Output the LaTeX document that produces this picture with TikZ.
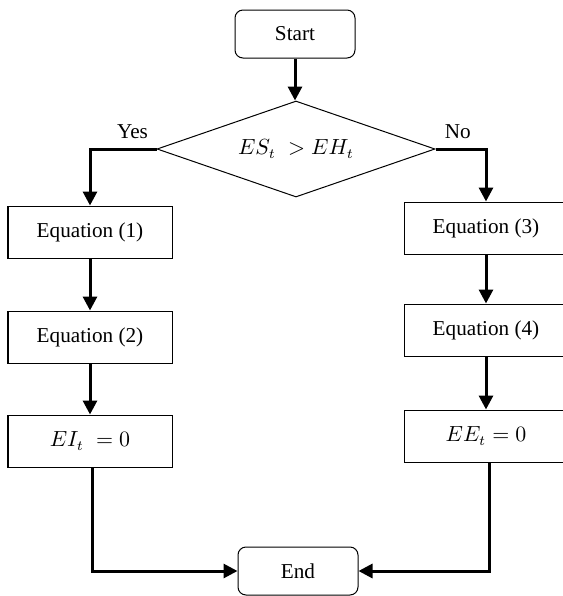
\documentclass[tikz,border=0pt]{standalone}
\usepackage{fontspec}
\setmainfont{Liberation Serif}
\usetikzlibrary{shapes.geometric,arrows.meta}

\tikzset{
    term/.style={draw, rounded corners=4pt, line width=0.5pt, minimum width=60pt, minimum height=24pt, font=\fontsize{10.6}{12}\selectfont},
    eqbox/.style={draw, line width=0.5pt, minimum width=82pt, minimum height=26pt, font=\fontsize{10.6}{12}\selectfont},
    test/.style={draw, diamond, aspect=2.9, line width=0.5pt, minimum width=139pt, minimum height=48pt, inner sep=0pt, font=\fontsize{10.6}{12}\selectfont},
    flow/.style={line width=1.5pt, -{Triangle[length=7pt,width=7pt]}},
    answer/.style={above, yshift=1pt, font=\fontsize{10.6}{12}\selectfont}
}

\begin{document}
\begin{tikzpicture}[x=0.5pt, y=-0.5pt]

                    \useasboundingbox (0,0) rectangle (563,596);

                    \node[term] (start) at (295,34) {Start};
                    \node[test] (cmp) at (296,149) {$ES_t\;>EH_t$};

                    \node[eqbox] (eq1) at (90,232) {Equation (1)};
                    \node[eqbox] (eq2) at (90,337) {Equation (2)};
                    \node[eqbox] (ei) at (90,441) {$EI_t\;=0$};

                    \node[eqbox] (eq3) at (486,228) {Equation (3)};
                    \node[eqbox] (eq4) at (486,330) {Equation (4)};
                    \node[eqbox] (ee) at (486,436) {$EE_t=0$};

                    \node[term] (end) at (298,571) {End};

                    \draw[flow] (start) -- (start |- cmp.north);
                    \draw[flow] (cmp.west) -| node[pos=0.18, answer] {Yes} (eq1);
                    \draw[flow] (cmp.east) -| node[pos=0.22, answer] {No} (eq3);
                    \draw[flow] (eq1) -- (eq2);
                    \draw[flow] (eq2) -- (ei);
                    \draw[flow] (eq3) -- (eq4);
                    \draw[flow] (eq4) -- (ee);
                    \draw[flow] ([xshift=1pt]ei.south) |- (end.west);
                    \draw[flow] ([xshift=1.5pt]ee.south) |- (end.east);
                \end{tikzpicture}
\end{document}
